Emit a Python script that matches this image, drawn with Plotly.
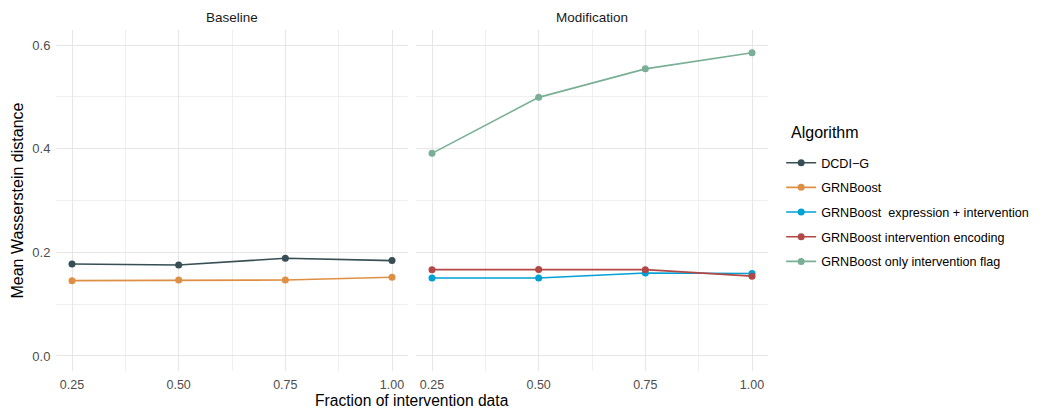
import plotly.graph_objects as go

fractions = [0.25, 0.50, 0.75, 1.00]

baseline_dcdi = [0.1775, 0.1756, 0.1885, 0.1840]
baseline_grnboost = [0.1453, 0.1466, 0.1466, 0.1518]

mod_expr_interv = [0.1505, 0.1505, 0.1600, 0.1590]
mod_interv_encoding = [0.1666, 0.1670, 0.1666, 0.1540]
mod_only_flag = [0.391, 0.499, 0.554, 0.585]

x_ticks = [0.25, 0.50, 0.75, 1.00]
x_tick_labels = ["0.25", "0.50", "0.75", "1.00"]
y_ticks = [0.0, 0.2, 0.4, 0.6]
y_tick_labels = ["0.0", "0.2", "0.4", "0.6"]

names = ["DCDI\u2212G", "GRNBoost", "GRNBoost  expression + intervention",
         "GRNBoost intervention encoding", "GRNBoost only intervention flag"]
colors = ["#374E55", "#DF8F44", "#00A1D5", "#B24745", "#79AF97"]

series = [
    (names[0], baseline_dcdi, "x", "y", colors[0]),
    (names[1], baseline_grnboost, "x", "y", colors[1]),
    (names[2], mod_expr_interv, "x2", "y2", colors[2]),
    (names[3], mod_interv_encoding, "x2", "y2", colors[3]),
    (names[4], mod_only_flag, "x2", "y2", colors[4]),
]

fig = go.Figure()
for i, (nm, vals, xa, ya, col) in enumerate(series):
    fig.add_trace(go.Scatter(
        x=fractions, y=vals, xaxis=xa, yaxis=ya, name=nm,
        mode="lines+markers", legendgroup=str(i),
        line=dict(color=col, width=1.6),
        marker=dict(color=col, size=7),
    ))

font_family = "Liberation Sans, Arial, sans-serif"
grid = "#E6E6E6"
minor_grid = "#EFEFEF"

xcommon = dict(range=[0.2125, 1.0375], tickvals=x_ticks, ticktext=x_tick_labels,
               showgrid=True, gridcolor=grid, gridwidth=1.1, zeroline=False,
               showline=False, ticks="outside", ticklen=2, tickcolor="rgba(0,0,0,0)",
               tickfont=dict(size=12.5, color="#4D4D4D"),
               minor=dict(dtick=0.25, tick0=0.125, showgrid=True, gridcolor=minor_grid, gridwidth=0.6))
ycommon = dict(range=[-0.029, 0.629], tickvals=y_ticks, ticktext=y_tick_labels,
               showgrid=True, gridcolor=grid, gridwidth=1.1, zeroline=False,
               showline=False, ticks="outside", ticklen=2, tickcolor="rgba(0,0,0,0)",
               minor=dict(dtick=0.2, tick0=0.1, showgrid=True, gridcolor=minor_grid, gridwidth=0.6))

W = 712.0
H = 341.0
fig.update_layout(
    width=1035, height=401,
    margin=dict(l=48, r=275, t=22, b=38, autoexpand=False),
    paper_bgcolor="white", plot_bgcolor="white",
    font=dict(family=font_family, color="#1A1A1A"),
    xaxis=dict(domain=[0, 352 / W], anchor="y", **xcommon),
    xaxis2=dict(domain=[360 / W, 1], anchor="y2", **xcommon),
    yaxis=dict(domain=[0, 1], anchor="x", tickfont=dict(size=13, color="#4D4D4D"), **ycommon),
    yaxis2=dict(domain=[0, 1], anchor="x2", showticklabels=False, **ycommon),
    showlegend=True,
    legend=dict(
        x=1.0185, xanchor="left", y=0.654, yanchor="top",
        font=dict(size=12.6, color="#000000"),
        tracegroupgap=5.3, itemwidth=30,
        bgcolor="rgba(0,0,0,0)",
    ),
    annotations=[
        dict(text="Baseline", x=176 / W, y=1, xref="paper", yref="paper",
             xanchor="center", yanchor="middle", yshift=13, showarrow=False,
             font=dict(size=13.5, color="#1A1A1A")),
        dict(text="Modification", x=536 / W, y=1, xref="paper", yref="paper",
             xanchor="center", yanchor="middle", yshift=13, showarrow=False,
             font=dict(size=13.5, color="#1A1A1A")),
        dict(text="Fraction of intervention data", x=0.5, y=0, xref="paper", yref="paper",
             xanchor="center", yanchor="middle", yshift=-29.5, borderpad=0, showarrow=False,
             font=dict(size=15.6, color="#000000")),
        dict(text="Mean Wasserstein distance", x=0, y=0.5, xref="paper", yref="paper",
             xanchor="center", yanchor="middle", xshift=-39, textangle=-90, showarrow=False,
             font=dict(size=16, color="#000000")),
        dict(text="Algorithm", x=1.03, y=1 - (125 - 22) / H, xref="paper", yref="paper",
             xanchor="left", yanchor="middle", showarrow=False,
             font=dict(size=16, color="#000000")),
    ],
)

fig.write_html("out.html")
